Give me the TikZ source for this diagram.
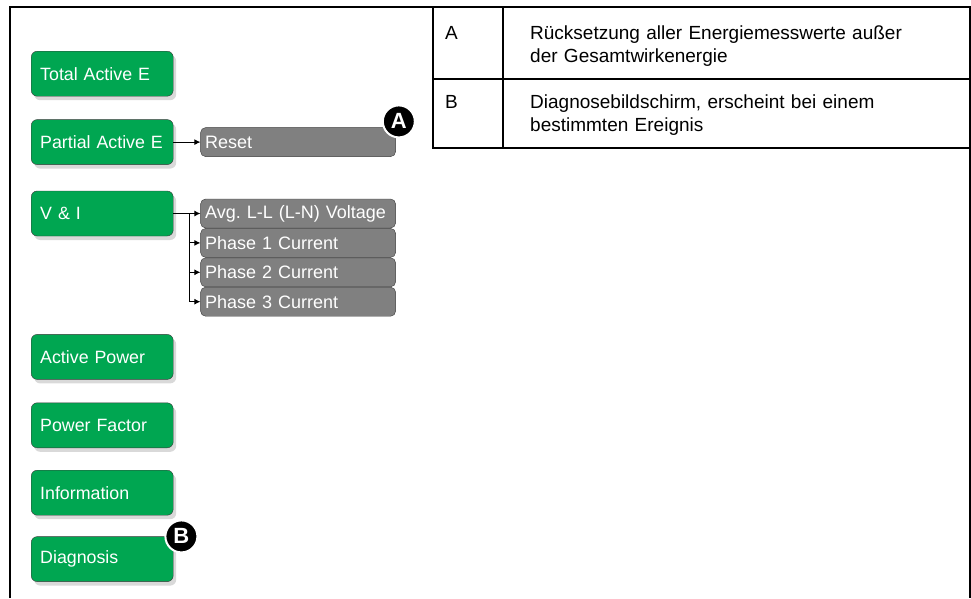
\documentclass[tikz,border=0pt]{standalone}
\usepackage{fontspec}
\setmainfont{Liberation Sans}
\usetikzlibrary{positioning,arrows.meta,shadows}

\definecolor{menugreen}{HTML}{00A651}
\definecolor{subgray}{HTML}{808080}
\definecolor{edgegray}{HTML}{3A3A3A}

\tikzset{
  menu/.style={draw=edgegray, fill=menugreen, rounded corners=6pt, text=white,
    minimum width=142pt, minimum height=45pt, text width=124pt, inner xsep=9pt,
    align=left, font=\fontsize{17.8}{21}\selectfont,
    drop shadow={shadow xshift=3pt, shadow yshift=-4pt, opacity=.3}},
  sub/.style={draw=edgegray, fill=subgray, rounded corners=5pt, text=white,
    minimum width=195pt, minimum height=29pt, text width=186pt, inner xsep=4.5pt,
    align=left, font=\fontsize{18}{21}\selectfont},
  callout/.style={circle, fill=black, draw=white, line width=2pt, text=white,
    minimum size=32pt, inner sep=0pt, font=\fontsize{22}{22}\selectfont\bfseries},
  link/.style={-{Latex[length=6pt,width=6pt]}, line width=1pt},
  rule/.style={line width=2pt},
  cell/.style={anchor=north west, inner sep=0pt, align=left,
    font=\fontsize{19}{22.5}\selectfont}
}

\begin{document}
\begin{tikzpicture}[x=1pt, y=-1pt]
    \useasboundingbox (0,0) rectangle (971,598);

    % frame and legend table
    \draw[rule] (10,598) -- (10,7) -- (970,7) -- (970,598);
    \draw[rule] (433,7) -- (433,148) -- (970,148);
    \draw[rule] (503,7) -- (503,148);
    \draw[rule] (433,79) -- (970,79);

    \node (keya) [cell] at (445,26) {A};
    \node (texta) [cell, text width=440pt] at (530,26) {Rücksetzung aller Energiemesswerte außer\\der Gesamtwirkenergie};
    \node (keyb) [cell] at (445,95) {B};
    \node (textb) [cell, text width=440pt] at (530,95) {Diagnosebildschirm, erscheint bei einem\\bestimmten Ereignis};

    % menu
    \node (tae) [menu, anchor=north west] at (31,51) {Total Active E};
    \node (pae) [menu, below = 23pt of tae] {Partial Active E};
    \node (vi)  [menu, below = 26pt of pae] {V \& I};
    \node (ap)  [menu, below = 98pt of vi] {Active Power};
    \node (pf)  [menu, below = 23pt of ap] {Power Factor};
    \node (inf) [menu, below = 22pt of pf] {Information};
    \node (diag) [menu, below = 21pt of inf] {Diagnosis};

    \node (reset) [sub, right = 27pt of pae] {Reset};
    \node (avg) [sub, right = 27pt of vi] {Avg.\ L-L (L-N) Voltage};
    \node (ph1) [sub, below = 0pt of avg] {Phase 1 Current};
    \node (ph2) [sub, below = 0pt of ph1] {Phase 2 Current};
    \node (ph3) [sub, below = 0pt of ph2] {Phase 3 Current};

    \node (calla) [callout, at=(reset.north east), xshift=3pt, yshift=6pt] {A};
    \node (callb) [callout, at=(diag.north east), xshift=8pt] {B};

    \coordinate (fork) at ([xshift=16pt]vi.east);
    \draw[link] (pae) -- (reset);
    \draw[link] (vi) -- (avg);
    \draw[link] (fork) |- (ph1);
    \draw[link] (fork) |- (ph2);
    \draw[link] (fork) |- (ph3);
\end{tikzpicture}
\end{document}
